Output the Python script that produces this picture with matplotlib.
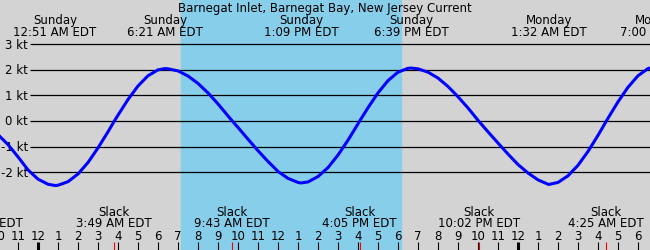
import matplotlib
matplotlib.use("Agg")
import matplotlib.pyplot as plt
import matplotlib.transforms as mtransforms

TITLE = "Barnegat Inlet, Barnegat Bay, New Jersey Current"
DAY_OFFSET = {"Saturday": -24, "Sunday": 0, "Monday": 24}

# strongest flood / ebb of each half cycle (labels along the top)
PEAK_DAYS = ["Sunday", "Sunday", "Sunday", "Sunday", "Monday", "Monday"]
PEAK_TIMES = ["12:51 AM", "6:21 AM", "1:09 PM", "6:39 PM", "1:32 AM", "7:00 AM"]

# slack water (labels along the bottom)
SLACK_DAYS = ["Saturday", "Sunday", "Sunday", "Sunday", "Sunday", "Monday"]
SLACK_TIMES = ["9:21 PM", "3:49 AM", "9:43 AM", "4:05 PM", "10:02 PM", "4:25 AM"]

SUNRISE = ("Sunday", "7:09 AM")
SUNSET = ("Sunday", "6:09 PM")

KT_LEVELS = [-2, -1, 0, 1, 2, 3]
HOUR_TICKS = list(range(-2, 32))

# current speed, hours after Sunday midnight
CURRENT_HOURS = [-2.0, -1.5, -1.0, -0.5, 0.0, 0.5, 0.85, 1.0, 1.5, 2.0, 2.5,
                 3.0, 3.5, 3.817, 4.0, 4.5, 5.0, 5.5, 6.0, 6.35, 6.5, 7.0,
                 7.5, 8.0, 8.5, 9.0, 9.5, 9.717, 10.0, 10.5, 11.0, 11.5,
                 12.0, 12.5, 13.0, 13.15, 13.5, 14.0, 14.5, 15.0, 15.5,
                 16.0, 16.083, 16.5, 17.0, 17.5, 18.0, 18.5, 18.65, 19.0,
                 19.5, 20.0, 20.5, 21.0, 21.5, 22.0, 22.033, 22.5, 23.0,
                 23.5, 24.0, 24.5, 25.0, 25.533, 26.0, 26.5, 27.0, 27.5,
                 28.0, 28.417, 28.5, 29.0, 29.5, 30.0, 30.5, 31.0]
CURRENT_KT = [-0.53, -0.92, -1.40, -1.91, -2.27, -2.47, -2.52, -2.51, -2.37,
              -2.07, -1.62, -1.05, -0.42, 0.0, 0.23, 0.84, 1.37, 1.77, 2.00,
              2.05, 2.04, 1.96, 1.76, 1.47, 1.10, 0.67, 0.20, 0.0, -0.25,
              -0.71, -1.16, -1.58, -1.97, -2.24, -2.40, -2.42, -2.38, -2.17,
              -1.82, -1.33, -0.75, -0.11, 0.0, 0.52, 1.10, 1.58, 1.91, 2.06,
              2.07, 2.04, 1.91, 1.68, 1.35, 0.95, 0.51, 0.03, 0.0, -0.42,
              -0.86, -1.29, -1.70, -2.03, -2.30, -2.48, -2.40, -2.14, -1.73,
              -1.19, -0.56, 0.0, 0.11, 0.75, 1.32, 1.77, 2.05, 2.15]

W, H = 650, 250
XMIN, XMAX = -1.9, 30.6
YMIN, YMAX = -5.04, 4.73
FS = 8.5


def to_hours(day, clock):
    hm, ampm = clock.split()
    hh, mm = (int(p) for p in hm.split(":"))
    hh = hh % 12 + (12 if ampm == "PM" else 0)
    return DAY_OFFSET[day] + hh + mm / 60


def ypix(p):
    # pixel row from the top -> axes fraction
    return 1 - p / H


def hour_label(h):
    return str(h % 12 or 12)


fig = plt.figure(figsize=(W / 100, H / 100), dpi=100)
fig.patch.set_facecolor("#d3d3d3")
ax = fig.add_axes([0, 0, 1, 1])
ax.set_axis_off()
ax.set_xlim(XMIN, XMAX)
ax.set_ylim(YMIN, YMAX)
xt = ax.get_xaxis_transform()

ax.axvspan(to_hours(*SUNRISE), to_hours(*SUNSET), color="#87ceeb", zorder=0)

ax.hlines(KT_LEVELS, -0.4, XMAX, color="black", lw=0.9, zorder=3)
ylab_t = mtransforms.offset_copy(
    mtransforms.blended_transform_factory(ax.transAxes, ax.transData),
    fig=fig, y=-3.1, units="points")
for v in KT_LEVELS:
    ax.text(28 / W, v, f"{v} kt", transform=ylab_t, ha="right",
            va="baseline", fontsize=FS, zorder=2)

ax.plot(CURRENT_HOURS, CURRENT_KT, color="#0000ff", lw=2.2, zorder=4,
        solid_capstyle="round")

ax.text(0.5, ypix(12), TITLE, transform=ax.transAxes, ha="center",
        va="baseline", fontsize=FS)
for day, t in zip(PEAK_DAYS, PEAK_TIMES):
    h = to_hours(day, t)
    ax.text(h, ypix(24), day, transform=xt, ha="center", va="baseline",
            fontsize=FS)
    ax.text(h, ypix(35.7), t + " EDT", transform=xt, ha="center",
            va="baseline", fontsize=FS)

for day, t in zip(SLACK_DAYS, SLACK_TIMES):
    h = to_hours(day, t)
    ax.text(h, ypix(216), "Slack", transform=xt, ha="center", va="baseline",
            fontsize=FS)
    ax.text(h, ypix(227.3), t + " EDT", transform=xt, ha="center",
            va="baseline", fontsize=FS)
    ax.vlines(h, 0, ypix(241.7), transform=xt, color="red", lw=0.8,
              zorder=5)

for h in HOUR_TICKS:
    ax.text(h, ypix(240), hour_label(h), transform=xt, ha="center",
            va="baseline", fontsize=FS)
    thick = h % 24 == 0
    ax.vlines(h, 0, ypix(241.7), transform=xt, color="black",
              lw=2.2 if thick else 0.8, zorder=5)

fig.savefig("out.png", dpi=100, facecolor=fig.get_facecolor())
